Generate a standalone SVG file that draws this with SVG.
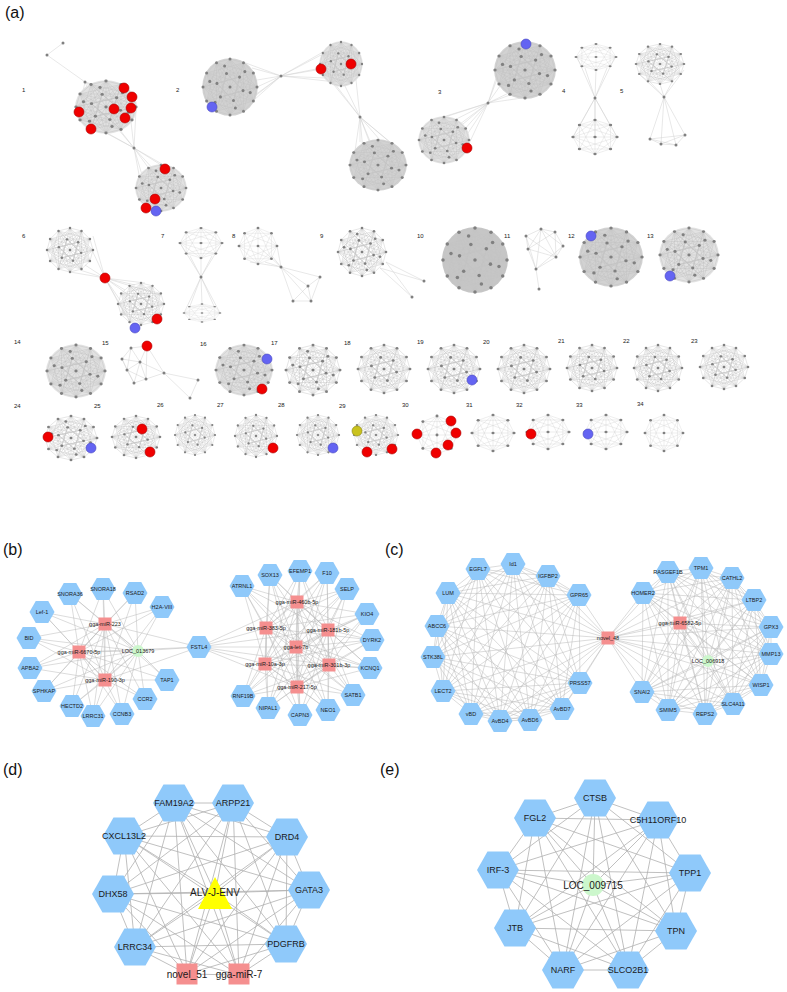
<svg xmlns="http://www.w3.org/2000/svg" xmlns:xlink="http://www.w3.org/1999/xlink" width="787" height="992" viewBox="0 0 787 992">
<style>
.pl{font-family:"Liberation Sans",Arial,sans-serif;font-size:16px;fill:#111}
.nl{font-family:"Liberation Sans",Arial,sans-serif;font-size:6px;fill:#222}
.ts{font-family:"Liberation Sans",Arial,sans-serif;font-size:5.5px;fill:#1a1a1a;text-anchor:middle}
.th{font-family:"Liberation Sans",Arial,sans-serif;font-size:9px;fill:#1a1a1a;text-anchor:middle}
.tc{font-family:"Liberation Sans",Arial,sans-serif;font-size:10px;fill:#1a1a1a;text-anchor:middle}
.hx{fill:#8fc9fa}
.sq{fill:#f58f8f}
.gc{fill:#ccf7cc}
.ae{fill:none;stroke:#c4c4c4;stroke-width:.018}
.as{fill:none;stroke:#d2d2d2;stroke-width:.02}
.fan{fill:none;stroke:#d0d0d0;stroke-width:.5}
.eb{fill:none;stroke:#b8b8b8;stroke-width:.5}
.ed{fill:none;stroke:#b0b0b0;stroke-width:.8}
.gd{fill:#808080}
.nr{fill:#f00000;stroke:#a80000;stroke-width:.6}
.nb{fill:#6464f2;stroke:#4646c0;stroke-width:.6}
.ny{fill:#c9c21e;stroke:#8a8410;stroke-width:.6}
.f1{fill:#c6c6c6}
.f2{fill:#d2d2d2}
.f3{fill:#e2e2e2}
</style>
<defs>
<g id="cm">
<path class="ae" d="M1 0L.866 .5L.5 .866L0 1L-.5 .866L-.866 .5L-1 0L-.866-.5L-.5-.866L0-1L.5-.866L.866-.5Z M1 0L-.866 .5L.5-.866L0 1L-.5-.866L.866 .5L-1 0L.866-.5L-.5 .866L0-1L.5 .866L-.866-.5Z M1 0L0 1L-1 0L0-1Z M.866 .5L-.5 .866L-.866-.5L.5-.866Z M.5 .866L-.866 .5L-.5-.866L.866-.5Z M1 0L-.5 .866L-.5-.866Z M.866 .5L-.866 .5L0-1Z M.5 .866L-1 0L.5-.866Z M0 1L-.866-.5L.866-.5Z M.483 .129L.129 .483L-.354 .354L-.483-.129L-.129-.483L.354-.354Z M.483 .129L-.354 .354L-.129-.483Z M.129 .483L-.483-.129L.354-.354Z M1 0L-.354 .354M.5 .866L-.483-.129M-.5 .866L-.129-.483M-1 0L.354-.354M-.5-.866L.483 .129M.5-.866L.129 .483M.866 .5L-.866-.5M-.866 .5L.866-.5M1 0L-1 0M.5 .866L-.5-.866M0 1L0-1M-.5 .866L.5-.866"/>
<g class="gd">
<circle cx="1" cy="0" r=".055"/><circle cx=".866" cy=".5" r=".055"/><circle cx=".5" cy=".866" r=".055"/><circle cx="0" cy="1" r=".055"/><circle cx="-.5" cy=".866" r=".055"/><circle cx="-.866" cy=".5" r=".055"/><circle cx="-1" cy="0" r=".055"/><circle cx="-.866" cy="-.5" r=".055"/><circle cx="-.5" cy="-.866" r=".055"/><circle cx="0" cy="-1" r=".055"/><circle cx=".5" cy="-.866" r=".055"/><circle cx=".866" cy="-.5" r=".055"/>
<circle cx=".483" cy=".129" r=".055"/><circle cx=".129" cy=".483" r=".055"/><circle cx="-.354" cy=".354" r=".055"/><circle cx="-.483" cy="-.129" r=".055"/><circle cx="-.129" cy="-.483" r=".055"/><circle cx=".354" cy="-.354" r=".055"/><circle cx="0" cy="0" r=".055"/>
</g>
</g>
<g id="ci">
<g class="gd">
<circle cx=".75" cy=".2" r=".055"/><circle cx=".2" cy=".75" r=".055"/><circle cx="-.55" cy=".55" r=".055"/><circle cx="-.75" cy="-.2" r=".055"/><circle cx="-.2" cy="-.75" r=".055"/><circle cx=".55" cy="-.55" r=".055"/>
</g>
</g>
<g id="cs">
<path class="as" d="M1 0L.707 .707L0 1L-.707 .707L-1 0L-.707-.707L0-1L.707-.707Z M1 0L-.707 .707L0-1L.707 .707L-1 0L.707-.707L0 1L-.707-.707Z M1 0L0 1L-1 0L0-1Z M.707 .707L-.707 .707L-.707-.707L.707-.707Z M1 0L-1 0M0 1L0-1"/>
<g class="gd">
<circle cx="1" cy="0" r=".075"/><circle cx=".707" cy=".707" r=".075"/><circle cx="0" cy="1" r=".075"/><circle cx="-.707" cy=".707" r=".075"/><circle cx="-1" cy="0" r=".075"/><circle cx="-.707" cy="-.707" r=".075"/><circle cx="0" cy="-1" r=".075"/><circle cx=".707" cy="-.707" r=".075"/><circle cx="0" cy="0" r=".075"/>
</g>
</g>
<circle id="cf" r="1.03"/>
<polygon id="hs" points="-12.5,0 -6.25,-11 6.25,-11 12.5,0 6.25,11 -6.25,11"/>
<polygon id="hl" points="-21,0 -10.5,-18.5 10.5,-18.5 21,0 10.5,18.5 -10.5,18.5"/>
<rect id="ss" x="-6.5" y="-6.5" width="13" height="13"/>
<rect id="sl" x="-10.5" y="-10.5" width="21" height="21"/>
</defs>
<rect width="787" height="992" fill="#ffffff"/>

<g id="panel-labels">
<text class="pl" x="5" y="18">(a)</text>
<text class="pl" x="3" y="555">(b)</text>
<text class="pl" x="385" y="555">(c)</text>
<text class="pl" x="3" y="775">(d)</text>
<text class="pl" x="380" y="775">(e)</text>
</g>

<g id="a-numbers">
<text class="nl" x="22" y="92">1</text><text class="nl" x="176" y="92">2</text><text class="nl" x="438" y="94">3</text><text class="nl" x="562" y="93">4</text><text class="nl" x="620" y="93">5</text>
<text class="nl" x="22" y="238">6</text><text class="nl" x="161" y="238">7</text><text class="nl" x="232" y="238">8</text><text class="nl" x="320" y="238">9</text><text class="nl" x="417" y="238">10</text><text class="nl" x="504" y="238">11</text><text class="nl" x="568" y="238">12</text><text class="nl" x="647" y="238">13</text>
<text class="nl" x="14" y="344">14</text><text class="nl" x="102" y="345">15</text><text class="nl" x="200" y="346">16</text><text class="nl" x="271" y="345">17</text><text class="nl" x="344" y="345">18</text><text class="nl" x="417" y="344">19</text><text class="nl" x="483" y="344">20</text><text class="nl" x="558" y="343">21</text><text class="nl" x="623" y="343">22</text><text class="nl" x="691" y="343">23</text>
<text class="nl" x="14" y="408">24</text><text class="nl" x="94" y="408">25</text><text class="nl" x="157" y="407">26</text><text class="nl" x="217" y="407">27</text><text class="nl" x="278" y="407">28</text><text class="nl" x="339" y="408">29</text><text class="nl" x="402" y="407">30</text><text class="nl" x="466" y="407">31</text><text class="nl" x="516" y="407">32</text><text class="nl" x="576" y="407">33</text><text class="nl" x="637" y="406">34</text>
</g>

<g id="a-connectors">
<path class="fan" d="M63 43L47 55L85 82 M85 82L100 95M85 82L112 90M85 82L95 108M85 82L120 100M85 82L80 105"/>
<path class="fan" d="M134 148L106 133M134 148L120 130M134 148L131 122M134 148L93 125M134 148L112 122M134 148L136 110M134 148L150 170M134 148L161 165M134 148L176 172M134 148L140 180M134 148L165 182M134 148L148 195"/>
<path class="fan" d="M281 76L257 80M281 76L255 95M281 76L252 68M281 76L245 108M281 76L243 62M281 76L257 87M281 76L250 100M281 76L321 55M281 76L322 69M281 76L330 48M281 76L341 64M281 76L325 78M281 76L336 82"/>
<path class="fan" d="M360 117L335 84M360 117L345 86M360 117L356 80M360 117L330 80M360 117L360 142M360 117L370 141M360 117L380 140M360 117L392 144M360 117L402 152M360 117L354 158M360 117L378 165M360 117L365 175"/>
<path class="fan" d="M488 103L500 86M488 103L510 95M488 103L522 98M488 103L497 75M488 103L505 58M488 103L515 90M488 103L430 121M488 103L445 117M488 103L460 124M488 103L467 148M488 103L455 140M488 103L425 135M488 103L444 140M488 103L450 160"/>
<path class="fan" d="M595 98L585 68M595 98L596 70M595 98L607 68M595 98L577 57M595 98L615 57M595 98L580 125M595 98L595 120M595 98L610 125M595 98L573 137M595 98L617 137M595 98L595 137"/>
<path class="fan" d="M664 97L650 82M664 97L660 84M664 97L672 82M664 97L640 75M664 97L684 70M664 97L650 139M664 97L685 135M664 97L661 144M664 97L676 145 M650 139L685 135L676 145L661 144L650 139L676 145M661 144L685 135"/>
<path class="fan" d="M105 278L85 265M105 278L92 250M105 278L80 270M105 278L70 272M105 278L93 236M105 278L125 290M105 278L135 285M105 278L145 283M105 278L120 300M105 278L141 304M105 278L160 295M105 278L125 315M105 278L130 322"/>
<path class="fan" d="M201 277L190 256M201 277L201 258M201 277L212 256M201 277L180 243M201 277L222 243M201 277L184 313M201 277L190 306M201 277L202 304M201 277L214 306M201 277L220 313"/>
<path class="fan" d="M281 267L265 262M281 267L272 256M281 267L277 246M281 267L250 262M281 267L258 246M281 267L320 277M281 267L308 286M281 267L293 301M281 267L311 301 M320 277L308 286L293 301L311 301L320 277M308 286L311 301"/>
<path class="fan" d="M386 262L424 281M386 262L412 297M380 268L412 297M380 268L424 281"/>
<path class="fan" d="M541 229L555 232L563 246L556 257L536 269L528 249L526 236L541 229L563 246M541 229L528 249M541 229L556 257M541 229L536 269M555 232L528 249M555 232L556 257M526 236L556 257M526 236L536 269M563 246L536 269M528 249L556 257M536 269L539 289"/>
<path class="fan" d="M147 346L131 348L122 359L127 370L134 383L146 379L164 373L147 346L140 362L131 348L127 370M122 359L140 362L164 373M140 362L127 370M140 362L146 379M140 362L134 383M127 370L146 379M122 359L134 383M164 373L198 380L190 398L164 373M147 346L146 379"/>
</g>

<g id="a-clusters">
<g id="cl-1">
<circle class="gd" cx="63" cy="43" r="1.5"/><circle class="gd" cx="47" cy="55" r="1.5"/><circle class="gd" cx="85" cy="82" r="1.5"/>
<use href="#cf" class="f3" transform="translate(106 107) scale(30 26)"/>
<use href="#cm" transform="translate(106 107) scale(30 26)"/>
<use href="#ci" transform="translate(106 107) scale(30 26)"/>
<circle class="gd" cx="134" cy="148" r="1.5"/>
<use href="#cf" class="f3" transform="translate(161 188) scale(25 23)"/>
<use href="#cm" transform="translate(161 188) scale(25 23)"/>
<use href="#ci" transform="translate(161 188) scale(25 23)"/>
<circle class="nr" cx="124" cy="88" r="5"/><circle class="nr" cx="132" cy="97" r="5"/><circle class="nr" cx="114" cy="109" r="5"/><circle class="nr" cx="131" cy="108" r="5"/><circle class="nr" cx="125" cy="118" r="5"/><circle class="nr" cx="79" cy="112" r="5"/><circle class="nr" cx="91" cy="129" r="5"/>
<circle class="nr" cx="165" cy="169" r="5"/><circle class="nr" cx="155" cy="199" r="5"/><circle class="nr" cx="146" cy="208" r="5"/><circle class="nb" cx="156" cy="211" r="5"/>
</g>
<g id="cl-2">
<use href="#cf" class="f2" transform="translate(230 87) scale(27 28)"/>
<use href="#cm" transform="translate(230 87) scale(27 28)"/>
<use href="#ci" transform="translate(230 87) scale(27 28)"/>
<circle class="gd" cx="281" cy="76" r="1.5"/>
<use href="#cf" class="f3" transform="translate(341 64) scale(21 22)"/>
<use href="#cm" transform="translate(341 64) scale(21 22)"/>
<circle class="gd" cx="360" cy="117" r="1.5"/>
<use href="#cf" class="f2" transform="translate(378 165) scale(28 25)"/>
<use href="#cm" transform="translate(378 165) scale(28 25)"/>
<use href="#ci" transform="translate(378 165) scale(28 25)"/>
<circle class="nb" cx="212" cy="107" r="5"/><circle class="nr" cx="321" cy="69" r="5"/><circle class="nr" cx="351" cy="64" r="5"/>
</g>
<g id="cl-3">
<use href="#cf" class="f2" transform="translate(525 70) scale(30 28)"/>
<use href="#cm" transform="translate(525 70) scale(30 28)"/>
<use href="#ci" transform="translate(525 70) scale(30 28)"/>
<circle class="gd" cx="488" cy="103" r="1.5"/>
<use href="#cf" class="f3" transform="translate(444 140) scale(25 23)"/>
<use href="#cm" transform="translate(444 140) scale(25 23)"/>
<use href="#ci" transform="translate(444 140) scale(25 23)"/>
<circle class="nb" cx="526" cy="44" r="5"/><circle class="nr" cx="467" cy="148" r="5"/>
</g>
<g id="cl-4">
<use href="#cs" transform="translate(596 57) scale(20 13)"/>
<circle class="gd" cx="595" cy="98" r="1.5"/>
<use href="#cs" transform="translate(595 137) scale(22 17)"/>
</g>
<g id="cl-5">
<use href="#cm" transform="translate(660 64) scale(24 20)"/>
<circle class="gd" cx="664" cy="97" r="1.5"/>
<circle class="gd" cx="650" cy="139" r="1.5"/><circle class="gd" cx="685" cy="135" r="1.5"/><circle class="gd" cx="661" cy="144" r="1.5"/><circle class="gd" cx="676" cy="145" r="1.5"/>
</g>
<g id="cl-6">
<use href="#cm" transform="translate(70 250) scale(23 22)"/>
<use href="#cm" transform="translate(141 304) scale(23 21)"/>
<circle class="nr" cx="105" cy="278" r="5"/><circle class="nr" cx="157" cy="319" r="5"/><circle class="nb" cx="135" cy="328" r="5"/>
</g>
<g id="cl-7">
<use href="#cs" transform="translate(201 243) scale(21 15)"/>
<circle class="gd" cx="201" cy="277" r="1.5"/>
<use href="#cs" transform="translate(202 313) scale(18 9)"/>
</g>
<g id="cl-8">
<use href="#cs" transform="translate(258 246) scale(19 18)"/>
<circle class="gd" cx="281" cy="267" r="1.5"/>
<circle class="gd" cx="320" cy="277" r="1.5"/><circle class="gd" cx="308" cy="286" r="1.5"/><circle class="gd" cx="293" cy="301" r="1.5"/><circle class="gd" cx="311" cy="301" r="1.5"/>
</g>
<g id="cl-9">
<use href="#cm" transform="translate(362 252) scale(24 24)"/>
<use href="#ci" transform="translate(362 252) scale(24 24)"/>
<circle class="gd" cx="424" cy="281" r="1.5"/><circle class="gd" cx="412" cy="297" r="1.5"/>
</g>
<g id="cl-10">
<use href="#cf" class="f1" transform="translate(475 260) scale(32 32)"/>
<use href="#cm" transform="translate(475 260) scale(32 32)"/>
<use href="#ci" transform="translate(475 260) scale(32 32)"/>
</g>
<g id="cl-11">
<circle class="gd" cx="541" cy="229" r="1.5"/><circle class="gd" cx="555" cy="232" r="1.5"/><circle class="gd" cx="526" cy="236" r="1.5"/><circle class="gd" cx="563" cy="246" r="1.5"/><circle class="gd" cx="528" cy="249" r="1.5"/><circle class="gd" cx="556" cy="257" r="1.5"/><circle class="gd" cx="536" cy="269" r="1.5"/><circle class="gd" cx="539" cy="289" r="1.5"/>
</g>
<g id="cl-12">
<use href="#cf" class="f2" transform="translate(611 257) scale(31 29)"/>
<use href="#cm" transform="translate(611 257) scale(31 29)"/>
<use href="#ci" transform="translate(611 257) scale(31 29)"/>
<circle class="nb" cx="591" cy="236" r="5"/>
</g>
<g id="cl-13">
<use href="#cf" class="f3" transform="translate(689 255) scale(29 27)"/>
<use href="#cm" transform="translate(689 255) scale(29 27)"/>
<use href="#ci" transform="translate(689 255) scale(29 27)"/>
<circle class="nb" cx="670" cy="276" r="5"/>
</g>
<g id="cl-14">
<use href="#cf" class="f3" transform="translate(76 371) scale(29 26)"/>
<use href="#cm" transform="translate(76 371) scale(29 26)"/>
<use href="#ci" transform="translate(76 371) scale(29 26)"/>
</g>
<g id="cl-15">
<circle class="gd" cx="131" cy="348" r="1.5"/><circle class="gd" cx="122" cy="359" r="1.5"/><circle class="gd" cx="140" cy="362" r="1.5"/><circle class="gd" cx="127" cy="370" r="1.5"/><circle class="gd" cx="164" cy="373" r="1.5"/><circle class="gd" cx="146" cy="379" r="1.5"/><circle class="gd" cx="134" cy="383" r="1.5"/><circle class="gd" cx="198" cy="380" r="1.5"/><circle class="gd" cx="190" cy="398" r="1.5"/>
<circle class="nr" cx="147" cy="346" r="5"/>
</g>
<g id="cl-16">
<use href="#cf" class="f3" transform="translate(244 370) scale(28 25)"/>
<use href="#cm" transform="translate(244 370) scale(28 25)"/>
<use href="#ci" transform="translate(244 370) scale(28 25)"/>
<circle class="nb" cx="267" cy="359" r="5"/><circle class="nr" cx="262" cy="389" r="5"/>
</g>
<g id="cl-17">
<use href="#cm" transform="translate(313 370) scale(27 25)"/>
<use href="#ci" transform="translate(313 370) scale(27 25)"/>
</g>
<g id="cl-18"><use href="#cm" transform="translate(384 369) scale(26 24)"/></g>
<g id="cl-19"><use href="#cm" transform="translate(454 369) scale(26 24)"/><circle class="nb" cx="472" cy="380" r="5"/></g>
<g id="cl-20"><use href="#cm" transform="translate(524 369) scale(26 24)"/></g>
<g id="cl-21"><use href="#cm" transform="translate(592 368) scale(25 23)"/></g>
<g id="cl-22"><use href="#cm" transform="translate(658 368) scale(24 23)"/></g>
<g id="cl-23"><use href="#cm" transform="translate(724 367) scale(24 22)"/></g>
<g id="cl-24"><use href="#cm" transform="translate(71 438) scale(26 22)"/><use href="#ci" transform="translate(71 438) scale(26 22)"/><circle class="nr" cx="48" cy="437" r="5"/><circle class="nb" cx="91" cy="448" r="5"/></g>
<g id="cl-25"><use href="#cm" transform="translate(136 437) scale(24 21)"/><circle class="nr" cx="142" cy="429" r="5"/><circle class="nr" cx="150" cy="452" r="5"/></g>
<g id="cl-26"><use href="#cm" transform="translate(195 435) scale(20 20)"/></g>
<g id="cl-27"><use href="#cm" transform="translate(256 436) scale(21 21)"/><circle class="nr" cx="273" cy="448" r="5"/></g>
<g id="cl-28"><use href="#cm" transform="translate(318 435) scale(21 20)"/><circle class="nb" cx="333" cy="448" r="5"/></g>
<g id="cl-29"><use href="#cm" transform="translate(376 435) scale(22 20)"/><circle class="ny" cx="357" cy="431" r="5"/><circle class="nr" cx="367" cy="452" r="5"/><circle class="nr" cx="392" cy="449" r="5"/></g>
<g id="cl-30"><use href="#cs" transform="translate(437 435) scale(20 19)"/><circle class="nr" cx="451" cy="421" r="5"/><circle class="nr" cx="456" cy="433" r="5"/><circle class="nr" cx="417" cy="434" r="5"/><circle class="nr" cx="448" cy="445" r="5"/><circle class="nr" cx="436" cy="453" r="5"/></g>
<g id="cl-31"><use href="#cs" transform="translate(493 433) scale(21 18)"/></g>
<g id="cl-32"><use href="#cs" transform="translate(548 432) scale(21 17)"/><circle class="nr" cx="531" cy="434" r="5"/></g>
<g id="cl-33"><use href="#cs" transform="translate(606 432) scale(21 17)"/><circle class="nb" cx="588" cy="434" r="5"/></g>
<g id="cl-34"><use href="#cs" transform="translate(664 433) scale(19 18)"/></g>
</g>

<g id="connectors">
<g id="edges-b">
<path class="eb" d="M70 594L105 624L103 589M135 593L105 624L162 607M42 612L105 624L29 638M30 668L105 624L44 691M72 706L105 624L93 716M122 714L105 624L145 699M167 680L105 624L199 647"/>
<path class="eb" d="M70 594L79 652L103 589M135 593L79 652L162 607M42 612L79 652L29 638M30 668L79 652L44 691M72 706L79 652L93 716M122 714L79 652L145 699M167 680L79 652L199 647"/>
<path class="eb" d="M70 594L138 651L103 589M135 593L138 651L162 607M42 612L138 651L29 638M30 668L138 651L44 691M72 706L138 651L93 716M122 714L138 651L145 699M167 680L138 651L199 647"/>
<path class="eb" d="M70 594L105 680L103 589M135 593L105 680L162 607M42 612L105 680L29 638M30 668L105 680L44 691M72 706L105 680L93 716M122 714L105 680L145 699M167 680L105 680L199 647"/>
<path class="eb" d="M105 624L79 652L105 680L138 651L105 624L105 680M79 652L138 651"/>
<path class="eb" d="M242 586L297 602L270 575M300 571L297 602L327 573M347 589L297 602L367 614M372 640L297 602L370 668M353 695L297 602L328 710M300 715L297 602L268 708M243 696L297 602L199 647"/>
<path class="eb" d="M242 586L266 628L270 575M300 571L266 628L327 573M347 589L266 628L367 614M372 640L266 628L370 668M353 695L266 628L328 710M300 715L266 628L268 708M243 696L266 628L199 647"/>
<path class="eb" d="M242 586L328 630L270 575M300 571L328 630L327 573M347 589L328 630L367 614M372 640L328 630L370 668M353 695L328 630L328 710M300 715L328 630L268 708M243 696L328 630L199 647"/>
<path class="eb" d="M242 586L296 647L270 575M300 571L296 647L327 573M347 589L296 647L367 614M372 640L296 647L370 668M353 695L296 647L328 710M300 715L296 647L268 708M243 696L296 647L199 647"/>
<path class="eb" d="M242 586L265 664L270 575M300 571L265 664L327 573M347 589L265 664L367 614M372 640L265 664L370 668M353 695L265 664L328 710M300 715L265 664L268 708M243 696L265 664L199 647"/>
<path class="eb" d="M242 586L329 665L270 575M300 571L329 665L327 573M347 589L329 665L367 614M372 640L329 665L370 668M353 695L329 665L328 710M300 715L329 665L268 708M243 696L329 665L199 647"/>
<path class="eb" d="M242 586L297 687L270 575M300 571L297 687L327 573M347 589L297 687L367 614M372 640L297 687L370 668M353 695L297 687L328 710M300 715L297 687L268 708M243 696L297 687L199 647"/>
<path class="eb" d="M297 602L266 628L265 664L297 687L329 665L328 630L297 602L296 647L297 687M266 628L296 647L329 665M328 630L296 647L265 664"/>
</g>
<g id="edges-c">
<path class="eb" d="M478 569L513 564L548 576L579 595L580 683L562 709L530 720L500 721L471 714L443 691L433 657L437 626L448 593Z"/>
<path class="eb" d="M478 569L548 576L580 683L530 720L471 714L433 657L448 593L513 564L579 595L562 709L500 721L443 691L437 626Z"/>
<path class="eb" d="M478 569L579 595L530 720L443 691L448 593L548 576L562 709L471 714L437 626L513 564L580 683L500 721L433 657Z"/>
<path class="eb" d="M478 569L580 683L471 714L448 593L579 595L500 721L437 626L548 576L530 720L433 657L513 564L562 709L443 691Z"/>
<path class="eb" d="M478 569L562 709L433 657L548 576L500 721L448 593L580 683L443 691L513 564L530 720L437 626L579 595L471 714Z"/>
<path class="eb" d="M478 569L530 720L448 593L562 709L437 626L580 683L433 657L579 595L443 691L548 576L471 714L513 564L500 721Z"/>
<path class="eb" d="M478 569L608 638L513 564M548 576L608 638L579 595M580 683L608 638L562 709M530 720L608 638L500 721M471 714L608 638L443 691M433 657L608 638L437 626M448 593L608 638"/>
<path class="eb" d="M643 593L668 572L701 568L732 578L754 600L771 627L771 654L761 685L733 704L705 714L668 710L642 692Z"/>
<path class="eb" d="M643 593L701 568L754 600L771 654L733 704L668 710Z M668 572L732 578L771 627L761 685L705 714L642 692Z"/>
<path class="eb" d="M643 593L732 578L771 654L705 714Z M668 572L754 600L761 685L668 710Z M701 568L771 627L733 704L642 692Z"/>
<path class="eb" d="M643 593L754 600L733 704Z M668 572L771 627L705 714Z M701 568L771 654L668 710Z M732 578L761 685L642 692Z"/>
<path class="eb" d="M643 593L771 627L668 710L732 578L733 704L668 572L771 654L642 692L754 600L705 714L701 568L761 685Z"/>
<path class="eb" d="M643 593L771 654M668 572L761 685M701 568L733 704M732 578L705 714M754 600L668 710M771 627L642 692"/>
<path class="eb" d="M643 593L680 623L668 572M701 568L680 623L732 578M754 600L680 623L771 627M771 654L680 623L761 685M733 704L680 623L705 714M668 710L680 623L642 692"/>
<path class="eb" d="M643 593L708 661L668 572M701 568L708 661L732 578M754 600L708 661L771 627M771 654L708 661L761 685M733 704L708 661L705 714M668 710L708 661L642 692M680 623L708 661"/>
<path class="eb" d="M643 593L608 638L668 572M701 568L608 638L732 578M754 600L608 638L771 627M771 654L608 638L761 685M733 704L608 638L705 714M668 710L608 638L642 692M680 623L608 638L708 661"/>
</g>
<g id="edges-d">
<path class="ed" d="M174 803L233 803L287 837L309 890L286 944L239 975L187 974L135 947L113 894L124 836Z"/>
<path class="ed" d="M174 803L287 837L286 944L187 974L113 894Z M233 803L309 890L239 975L135 947L124 836Z"/>
<path class="ed" d="M174 803L309 890L187 974L124 836L287 837L239 975L113 894L233 803L286 944L135 947Z"/>
<path class="ed" d="M174 803L286 944L113 894L287 837L187 974Z M233 803L239 975L124 836L309 890L135 947Z"/>
<path class="ed" d="M174 803L239 975M233 803L187 974M287 837L135 947M309 890L113 894M286 944L124 836"/>
<path class="ed" d="M174 803L215 893L233 803M287 837L215 893L309 890M286 944L215 893L239 975M187 974L215 893L135 947M113 894L215 893L124 836"/>
</g>
<g id="edges-e">
<path class="ed" d="M595 798L658 820L690 873L676 931L628 970L563 970L515 928L498 870L535 818Z"/>
<path class="ed" d="M595 798L690 873L628 970L515 928L535 818L658 820L676 931L563 970L498 870Z"/>
<path class="ed" d="M595 798L676 931L515 928Z M658 820L628 970L498 870Z M690 873L563 970L535 818Z"/>
<path class="ed" d="M595 798L628 970L535 818L676 931L498 870L690 873L515 928L658 820L563 970Z"/>
<path class="ed" d="M595 798L593 885L658 820M690 873L593 885L676 931M628 970L593 885L563 970M515 928L593 885L498 870M535 818L593 885"/>
</g>
</g>

<g id="nodes-b">
<g id="b-snora36" transform="translate(70 594)"><use href="#hs" class="hx"/><text class="ts" y="2">SNORA36</text></g>
<g id="b-snora18" transform="translate(103 589)"><use href="#hs" class="hx"/><text class="ts" y="2">SNORA18</text></g>
<g id="b-rsad2" transform="translate(135 593)"><use href="#hs" class="hx"/><text class="ts" y="2">RSAD2</text></g>
<g id="b-h2a" transform="translate(162 607)"><use href="#hs" class="hx"/><text class="ts" y="2">H2A-VIII</text></g>
<g id="b-lef1" transform="translate(42 612)"><use href="#hs" class="hx"/><text class="ts" y="2">Lef-1</text></g>
<g id="b-bid" transform="translate(29 638)"><use href="#hs" class="hx"/><text class="ts" y="2">BID</text></g>
<g id="b-apba2" transform="translate(30 668)"><use href="#hs" class="hx"/><text class="ts" y="2">APBA2</text></g>
<g id="b-sphkap" transform="translate(44 691)"><use href="#hs" class="hx"/><text class="ts" y="2">SPHKAP</text></g>
<g id="b-hectd2" transform="translate(72 706)"><use href="#hs" class="hx"/><text class="ts" y="2">HECTD2</text></g>
<g id="b-lrrc31" transform="translate(93 716)"><use href="#hs" class="hx"/><text class="ts" y="2">LRRC31</text></g>
<g id="b-ccnb3" transform="translate(122 714)"><use href="#hs" class="hx"/><text class="ts" y="2">CCNB3</text></g>
<g id="b-ccr2" transform="translate(145 699)"><use href="#hs" class="hx"/><text class="ts" y="2">CCR2</text></g>
<g id="b-tap1" transform="translate(167 680)"><use href="#hs" class="hx"/><text class="ts" y="2">TAP1</text></g>
<g id="b-fstl4" transform="translate(199 647)"><use href="#hs" class="hx"/><text class="ts" y="2">FSTL4</text></g>
<g id="b-mir223" transform="translate(105 624)"><use href="#ss" class="sq"/><text class="ts" y="2">gga-miR-223</text></g>
<g id="b-mir6670" transform="translate(79 652)"><use href="#ss" class="sq"/><text class="ts" y="2">gga-miR-6670-5p</text></g>
<g id="b-loc013679" transform="translate(138 651)"><circle r="6" class="gc"/><text class="ts" y="2">LOC_013679</text></g>
<g id="b-mir190" transform="translate(105 680)"><use href="#ss" class="sq"/><text class="ts" y="2">gga-miR-190-3p</text></g>
<g id="b-atrnl1" transform="translate(242 586)"><use href="#hs" class="hx"/><text class="ts" y="2">ATRNL1</text></g>
<g id="b-sox13" transform="translate(270 575)"><use href="#hs" class="hx"/><text class="ts" y="2">SOX13</text></g>
<g id="b-efemp1" transform="translate(300 571)"><use href="#hs" class="hx"/><text class="ts" y="2">EFEMP1</text></g>
<g id="b-f10" transform="translate(327 573)"><use href="#hs" class="hx"/><text class="ts" y="2">F10</text></g>
<g id="b-selp" transform="translate(347 589)"><use href="#hs" class="hx"/><text class="ts" y="2">SELP</text></g>
<g id="b-kio4" transform="translate(367 614)"><use href="#hs" class="hx"/><text class="ts" y="2">KIO4</text></g>
<g id="b-dyrk2" transform="translate(372 640)"><use href="#hs" class="hx"/><text class="ts" y="2">DYRK2</text></g>
<g id="b-kcnq1" transform="translate(370 668)"><use href="#hs" class="hx"/><text class="ts" y="2">KCNQ1</text></g>
<g id="b-satb1" transform="translate(353 695)"><use href="#hs" class="hx"/><text class="ts" y="2">SATB1</text></g>
<g id="b-neo1" transform="translate(328 710)"><use href="#hs" class="hx"/><text class="ts" y="2">NEO1</text></g>
<g id="b-capn3" transform="translate(300 715)"><use href="#hs" class="hx"/><text class="ts" y="2">CAPN3</text></g>
<g id="b-nipal1" transform="translate(268 708)"><use href="#hs" class="hx"/><text class="ts" y="2">NIPAL1</text></g>
<g id="b-rnf19b" transform="translate(243 696)"><use href="#hs" class="hx"/><text class="ts" y="2">RNF19B</text></g>
<g id="b-mir460b" transform="translate(297 602)"><use href="#ss" class="sq"/><text class="ts" y="2">gga-miR-460b-5p</text></g>
<g id="b-mir383" transform="translate(266 628)"><use href="#ss" class="sq"/><text class="ts" y="2">gga-miR-383-5p</text></g>
<g id="b-mir181b" transform="translate(328 630)"><use href="#ss" class="sq"/><text class="ts" y="2">gga-miR-181b-5p</text></g>
<g id="b-let7b" transform="translate(296 647)"><use href="#ss" class="sq"/><text class="ts" y="2">gga-let-7b</text></g>
<g id="b-mir10a" transform="translate(265 664)"><use href="#ss" class="sq"/><text class="ts" y="2">gga-miR-10a-3p</text></g>
<g id="b-mir301b" transform="translate(329 665)"><use href="#ss" class="sq"/><text class="ts" y="2">gga-miR-301b-3p</text></g>
<g id="b-mir217" transform="translate(297 687)"><use href="#ss" class="sq"/><text class="ts" y="2">gga-miR-217-5p</text></g>
</g>

<g id="nodes-c">
<g id="c-egfl7" transform="translate(478 569)"><use href="#hs" class="hx"/><text class="ts" y="2">EGFL7</text></g>
<g id="c-id1" transform="translate(513 564)"><use href="#hs" class="hx"/><text class="ts" y="2">Id1</text></g>
<g id="c-igfbp2" transform="translate(548 576)"><use href="#hs" class="hx"/><text class="ts" y="2">IGFBP2</text></g>
<g id="c-gpr65" transform="translate(579 595)"><use href="#hs" class="hx"/><text class="ts" y="2">GPR65</text></g>
<g id="c-prss57" transform="translate(580 683)"><use href="#hs" class="hx"/><text class="ts" y="2">PRSS57</text></g>
<g id="c-avbd7" transform="translate(562 709)"><use href="#hs" class="hx"/><text class="ts" y="2">AvBD7</text></g>
<g id="c-avbd6" transform="translate(530 720)"><use href="#hs" class="hx"/><text class="ts" y="2">AvBD6</text></g>
<g id="c-avbd4" transform="translate(500 721)"><use href="#hs" class="hx"/><text class="ts" y="2">AvBD4</text></g>
<g id="c-vbd" transform="translate(471 714)"><use href="#hs" class="hx"/><text class="ts" y="2">vBD</text></g>
<g id="c-lect2" transform="translate(443 691)"><use href="#hs" class="hx"/><text class="ts" y="2">LECT2</text></g>
<g id="c-stk38l" transform="translate(433 657)"><use href="#hs" class="hx"/><text class="ts" y="2">STK38L</text></g>
<g id="c-abcc6" transform="translate(437 626)"><use href="#hs" class="hx"/><text class="ts" y="2">ABCC6</text></g>
<g id="c-lum" transform="translate(448 593)"><use href="#hs" class="hx"/><text class="ts" y="2">LUM</text></g>
<g id="c-novel48" transform="translate(608 638)"><use href="#ss" class="sq"/><text class="ts" y="2">novel_48</text></g>
<g id="c-homer2" transform="translate(643 593)"><use href="#hs" class="hx"/><text class="ts" y="2">HOMER2</text></g>
<g id="c-rasgef1b" transform="translate(668 572)"><use href="#hs" class="hx"/><text class="ts" y="2">RASGEF1B</text></g>
<g id="c-tpm1" transform="translate(701 568)"><use href="#hs" class="hx"/><text class="ts" y="2">TPM1</text></g>
<g id="c-cathl2" transform="translate(732 578)"><use href="#hs" class="hx"/><text class="ts" y="2">CATHL2</text></g>
<g id="c-ltbp2" transform="translate(754 600)"><use href="#hs" class="hx"/><text class="ts" y="2">LTBP2</text></g>
<g id="c-gpx3" transform="translate(771 627)"><use href="#hs" class="hx"/><text class="ts" y="2">GPX3</text></g>
<g id="c-mmp13" transform="translate(771 654)"><use href="#hs" class="hx"/><text class="ts" y="2">MMP13</text></g>
<g id="c-wisp1" transform="translate(761 685)"><use href="#hs" class="hx"/><text class="ts" y="2">WISP1</text></g>
<g id="c-slc4a11" transform="translate(733 704)"><use href="#hs" class="hx"/><text class="ts" y="2">SLC4A11</text></g>
<g id="c-reps2" transform="translate(705 714)"><use href="#hs" class="hx"/><text class="ts" y="2">REPS2</text></g>
<g id="c-smim5" transform="translate(668 710)"><use href="#hs" class="hx"/><text class="ts" y="2">SMIM5</text></g>
<g id="c-snai2" transform="translate(642 692)"><use href="#hs" class="hx"/><text class="ts" y="2">SNAI2</text></g>
<g id="c-mir6582" transform="translate(680 623)"><use href="#ss" class="sq"/><text class="ts" y="2">gga-miR-6582-5p</text></g>
<g id="c-loc006918" transform="translate(708 661)"><circle r="6" class="gc"/><text class="ts" y="2">LOC_006918</text></g>
</g>

<g id="nodes-d">
<g id="d-fam19a2" transform="translate(174 803)"><use href="#hl" class="hx"/><text class="th" y="3">FAM19A2</text></g>
<g id="d-arpp21" transform="translate(233 803)"><use href="#hl" class="hx"/><text class="th" y="3">ARPP21</text></g>
<g id="d-drd4" transform="translate(287 837)"><use href="#hl" class="hx"/><text class="th" y="3">DRD4</text></g>
<g id="d-gata3" transform="translate(309 890)"><use href="#hl" class="hx"/><text class="th" y="3">GATA3</text></g>
<g id="d-pdgfrb" transform="translate(286 944)"><use href="#hl" class="hx"/><text class="th" y="3">PDGFRB</text></g>
<g id="d-lrrc34" transform="translate(135 947)"><use href="#hl" class="hx"/><text class="th" y="3">LRRC34</text></g>
<g id="d-dhx58" transform="translate(113 894)"><use href="#hl" class="hx"/><text class="th" y="3">DHX58</text></g>
<g id="d-cxcl13l2" transform="translate(124 836)"><use href="#hl" class="hx"/><text class="th" y="3">CXCL13L2</text></g>
<g id="d-novel51" transform="translate(187 974)"><use href="#sl" class="sq"/><text class="tc" y="4">novel_51</text></g>
<g id="d-mir7" transform="translate(239 974)"><use href="#sl" class="sq"/><text class="tc" y="4">gga-miR-7</text></g>
<g id="d-alvjenv"><polygon points="215,877 232,909 198,909" fill="#ffff00"/><text class="tc" x="215" y="896">ALV-J-ENV</text></g>
</g>

<g id="nodes-e">
<g id="e-ctsb" transform="translate(595 798)"><use href="#hl" class="hx"/><text class="th" y="3">CTSB</text></g>
<g id="e-c5h11orf10" transform="translate(658 820)"><use href="#hl" class="hx"/><text class="th" y="3">C5H11ORF10</text></g>
<g id="e-tpp1" transform="translate(690 873)"><use href="#hl" class="hx"/><text class="th" y="3">TPP1</text></g>
<g id="e-tpn" transform="translate(676 931)"><use href="#hl" class="hx"/><text class="th" y="3">TPN</text></g>
<g id="e-slco2b1" transform="translate(628 970)"><use href="#hl" class="hx"/><text class="th" y="3">SLCO2B1</text></g>
<g id="e-narf" transform="translate(563 970)"><use href="#hl" class="hx"/><text class="th" y="3">NARF</text></g>
<g id="e-jtb" transform="translate(515 928)"><use href="#hl" class="hx"/><text class="th" y="3">JTB</text></g>
<g id="e-irf3" transform="translate(498 870)"><use href="#hl" class="hx"/><text class="th" y="3">IRF-3</text></g>
<g id="e-fgl2" transform="translate(535 818)"><use href="#hl" class="hx"/><text class="th" y="3">FGL2</text></g>
<g id="e-loc009715" transform="translate(593 885)"><circle r="11" class="gc"/><text class="tc" y="4">LOC_009715</text></g>
</g>
</svg>
